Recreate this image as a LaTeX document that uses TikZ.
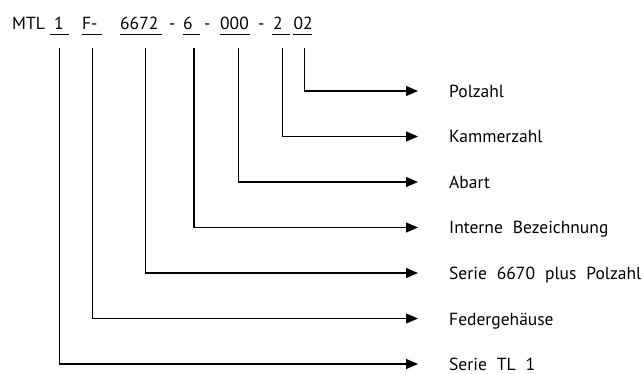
\documentclass[tikz,border=0pt]{standalone}
\usepackage{fontspec}
\setmainfont{PT Sans}
\usetikzlibrary{arrows.meta}
\newcommand{\wsp}{\hspace{10pt}}
\begin{document}
\begin{tikzpicture}[x=1pt,y=-1pt,
  hdr/.style={anchor=base west,inner sep=0pt,font=\fontsize{17.5}{20}\selectfont},
  lab/.style={anchor=base west,inner sep=0pt,font=\fontsize{17.5}{20}\selectfont},
  uline/.style={line width=1pt},
  conn/.style={line width=1.1pt,-{Triangle[length=12pt,width=10pt]}}]
\useasboundingbox (0,0) rectangle (643,374);
% header
\node[hdr] (mtl) at (12,30) {MTL};
\node[hdr] (h1) at (54,30) {1};
\node[hdr] (hF) at (82,30) {F-};
\node[hdr] (h6672) at (120,30) {6672};
\node[hdr] (d1) at (169,30) {-};
\node[hdr] (h6) at (183,30) {6};
\node[hdr] (d2) at (204,30) {-};
\node[hdr] (h000) at (220,30) {000};
\node[hdr] (d3) at (258,30) {-};
\node[hdr] (h2) at (273,30) {2};
\node[hdr] (h02) at (293.5,30) {02};
% underlines
\draw[uline] (50,35) -- (68.5,35);
\draw[uline] (81.7,35) -- (101.7,35);
\draw[uline] (120,35) -- (162,35);
\draw[uline] (182.7,35) -- (200,35);
\draw[uline] (220,35) -- (249.5,35);
\draw[uline] (271.7,35) -- (290,35);
\draw[uline] (293.3,35) -- (311.7,35);
% tops of connectors
\coordinate (t1) at (59.3,48);
\coordinate (tF) at (92.3,48);
\coordinate (t6672) at (145.3,48);
\coordinate (t6) at (194,48);
\coordinate (t000) at (238.7,48);
\coordinate (t2) at (282.7,48);
\coordinate (t02) at (304.3,48);
% arrow ends
\coordinate (e02) at (418,91);
\coordinate (e2) at (418,136.5);
\coordinate (e000) at (418,182);
\coordinate (e6) at (418,227.5);
\coordinate (e6672) at (418,273);
\coordinate (eF) at (418,318.5);
\coordinate (e1) at (418,364);
% labels
\node[lab] (l02) at (449,97.5) {Polzahl};
\node[lab] (l2) at (449,143) {Kammerzahl};
\node[lab] (l000) at (449,188.5) {Abart};
\node[lab] (l6) at (449,234) {Interne\wsp Bezeichnung};
\node[lab] (l6672) at (449,279.5) {Serie\wsp 6670\wsp plus\wsp Polzahl};
\node[lab] (lF) at (449,325) {Federgehäuse};
\node[lab] (l1) at (449,370) {Serie\wsp TL\wsp 1};
% connectors
\draw[conn] (t02) |- (e02);
\draw[conn] (t2) |- (e2);
\draw[conn] (t000) |- (e000);
\draw[conn] (t6) |- (e6);
\draw[conn] (t6672) |- (e6672);
\draw[conn] (tF) |- (eF);
\draw[conn] (t1) |- (e1);
\end{tikzpicture}
\end{document}
